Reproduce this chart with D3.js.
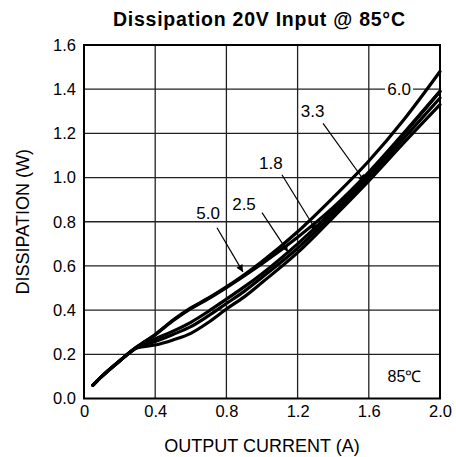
<!DOCTYPE html>
<html>
<head>
<meta charset="utf-8">
<script src="https://cdn.jsdelivr.net/npm/d3@7"></script>
<style>
  html, body { margin: 0; padding: 0; background: #fff; }
  svg { display: block; font-family: Arial, "Liberation Sans", sans-serif; }
</style>
</head>
<body>
<svg id="chart" width="456" height="457"></svg>
<script>
// ---- data ----
const currents = [0.05, 0.1, 0.2, 0.3, 0.4, 0.5, 0.6, 0.7, 0.8, 0.9, 1.0, 1.2, 1.4, 1.6, 1.8, 2.0];
const v60 = [0.06, 0.10, 0.17, 0.235, 0.29, 0.355, 0.41, 0.455, 0.505, 0.56, 0.62, 0.755, 0.91, 1.075, 1.265, 1.48];
const v50 = [0.06, 0.10, 0.17, 0.235, 0.288, 0.352, 0.407, 0.452, 0.502, 0.555, 0.61, 0.73, 0.865, 1.025, 1.205, 1.39];
const v33 = [0.06, 0.10, 0.17, 0.235, 0.27, 0.305, 0.345, 0.395, 0.45, 0.505, 0.565, 0.70, 0.85, 1.015, 1.20, 1.39];
const v25 = [0.06, 0.10, 0.17, 0.232, 0.258, 0.29, 0.325, 0.375, 0.43, 0.485, 0.548, 0.68, 0.835, 1.0, 1.18, 1.36];
const v18 = [0.06, 0.10, 0.17, 0.23, 0.242, 0.265, 0.295, 0.345, 0.405, 0.46, 0.525, 0.66, 0.82, 0.985, 1.16, 1.33];
const seriesNames = ["6.0", "5.0", "3.3", "2.5", "1.8"];
const seriesValues = [v60, v50, v33, v25, v18];

const xTicks = [0, 0.4, 0.8, 1.2, 1.6, 2.0];
const yTicks = [0, 0.2, 0.4, 0.6, 0.8, 1.0, 1.2, 1.4, 1.6];

// annotation labels: text, label position, arrow start, arrow tip (data units)
const labelText = ["5.0", "2.5", "1.8", "3.3", "6.0"];
const labelPos  = [[0.697, 0.836], [0.899, 0.877], [1.05, 1.065], [1.284, 1.301], [1.77, 1.398]];
const arrowFrom = [[0.747, 0.773], [1.0, 0.841], [1.112, 1.013], [1.343, 1.245], null];
const arrowTo   = [[0.893, 0.573], [1.146, 0.664], [1.309, 0.755], [1.579, 0.981], null];

const title = "Dissipation 20V Input @ 85°C";
const xTitle = "OUTPUT CURRENT (A)";
const yTitle = "DISSIPATION (W)";
const tempNote = "85℃";
const tempPos = [1.8, 0.1];

// ---- layout ----
const svg = d3.select("#chart");
const mLeft = 84, mRight = 440, mTop = 45, mBottom = 398.5;
const x = d3.scaleLinear().domain([0, 2]).range([mLeft, mRight]);
const y = d3.scaleLinear().domain([0, 1.6]).range([mBottom, mTop]);

// gridlines
const grid = svg.append("g");
grid.selectAll("line.v").data(xTicks.slice(1, -1)).enter().append("line")
  .attr("x1", d => x(d)).attr("x2", d => x(d)).attr("y1", mTop).attr("y2", mBottom)
  .attr("stroke", "#222").attr("stroke-width", 1.3);
grid.selectAll("line.h").data(yTicks.slice(1, -1)).enter().append("line")
  .attr("x1", mLeft).attr("x2", mRight).attr("y1", d => y(d)).attr("y2", d => y(d))
  .attr("stroke", "#222").attr("stroke-width", 1.3);

// axes (tick labels)
const xAxis = d3.axisBottom(x).tickValues(xTicks).tickSize(0).tickPadding(7)
  .tickFormat(d => d === 0 ? "0" : d3.format(".1f")(d));
const gx = svg.append("g").attr("transform", `translate(0,${mBottom})`).call(xAxis);
gx.select(".domain").remove();
gx.selectAll("text").attr("font-size", 16.5).attr("fill", "#000")
  .attr("font-family", "Arial, 'Liberation Sans', sans-serif");

const yAxis = d3.axisLeft(y).tickValues(yTicks).tickSize(0).tickPadding(8)
  .tickFormat(d3.format(".1f"));
const gy = svg.append("g").attr("transform", `translate(${mLeft},0)`).call(yAxis);
gy.select(".domain").remove();
gy.selectAll("text").attr("font-size", 16.5).attr("fill", "#000")
  .attr("font-family", "Arial, 'Liberation Sans', sans-serif");

// curves
const line = d3.line().x(d => x(d[0])).y(d => y(d[1])).curve(d3.curveMonotoneX);
svg.append("g").selectAll("path").data(seriesValues).enter().append("path")
  .attr("d", vals => line(currents.map((c, i) => [c, vals[i]])))
  .attr("fill", "none").attr("stroke", "#000").attr("stroke-width", 3.2)
  .attr("stroke-linejoin", "round").attr("stroke-linecap", "round");

// frame
svg.append("rect").attr("x", mLeft).attr("y", mTop)
  .attr("width", mRight - mLeft).attr("height", mBottom - mTop)
  .attr("fill", "none").attr("stroke", "#000").attr("stroke-width", 2);

// arrow marker
svg.append("defs").append("marker")
  .attr("id", "ah").attr("viewBox", "0 0 10 10").attr("refX", 10).attr("refY", 5)
  .attr("markerUnits", "userSpaceOnUse").attr("markerWidth", 11).attr("markerHeight", 7)
  .attr("orient", "auto")
  .append("path").attr("d", "M0,0 L10,5 L0,10 z").attr("fill", "#000");

// annotations
const ann = svg.append("g");
labelText.forEach((t, i) => {
  const p = labelPos[i];
  if (t === "6.0") {
    ann.append("rect").attr("x", x(p[0]) - 14).attr("y", y(p[1]) - 8)
      .attr("width", 28).attr("height", 16).attr("fill", "#fff");
  }
  ann.append("text").attr("x", x(p[0])).attr("y", y(p[1]))
    .attr("text-anchor", "middle").attr("dominant-baseline", "central")
    .attr("font-size", 17).attr("fill", "#000").text(t);
  if (arrowFrom[i]) {
    ann.append("line")
      .attr("x1", x(arrowFrom[i][0])).attr("y1", y(arrowFrom[i][1]))
      .attr("x2", x(arrowTo[i][0])).attr("y2", y(arrowTo[i][1]))
      .attr("stroke", "#000").attr("stroke-width", 1.2)
      .attr("marker-end", "url(#ah)");
  }
});

svg.append("text").attr("x", x(tempPos[0])).attr("y", y(tempPos[1]))
  .attr("text-anchor", "middle").attr("dominant-baseline", "central")
  .attr("font-size", 16).text(tempNote);

// titles
svg.append("text").attr("x", 259).attr("y", 26).attr("text-anchor", "middle")
  .attr("font-size", 19.5).attr("font-weight", "bold")
  .attr("textLength", 292).attr("lengthAdjust", "spacing").text(title);
svg.append("text").attr("x", (mLeft + mRight) / 2).attr("y", 452).attr("text-anchor", "middle")
  .attr("font-size", 18).text(xTitle);
svg.append("text").attr("transform", `translate(29,${(mTop + mBottom) / 2}) rotate(-90)`)
  .attr("text-anchor", "middle").attr("font-size", 18).text(yTitle);
</script>
</body>
</html>
